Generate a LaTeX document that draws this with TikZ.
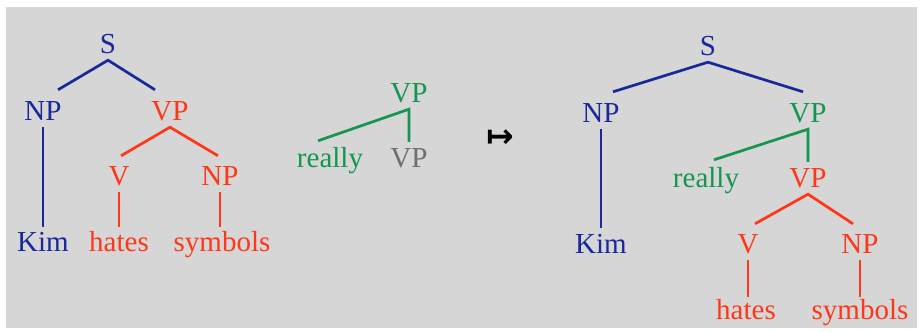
\documentclass[tikz,border=0pt]{standalone}
\usepackage{fontspec}
\setmainfont{Liberation Serif}
\newfontfamily\symfont{DejaVu Sans}
\usetikzlibrary{calc}
\definecolor{tblue}{RGB}{25,40,155}
\definecolor{tred}{RGB}{255,55,25}
\definecolor{tgreen}{RGB}{20,150,80}
\definecolor{tgray}{RGB}{110,110,110}
\definecolor{bg}{RGB}{214,214,214}
\tikzset{
  lab/.style={anchor=base, inner sep=0pt, text height=19pt, text depth=7pt,
    font=\fontsize{29}{34}\selectfont},
  br/.style={line width=2.7pt, line cap=butt},
  arrsym/.style={inner sep=0pt, font=\symfont\bfseries\fontsize{33}{38}\selectfont},
}
\begin{document}
\begin{tikzpicture}[x=1pt,y=-1pt]
\useasboundingbox (0,0) rectangle (924,332);
\fill[bg] (6,7) rectangle (917,328);
% left tree
\node[lab,tblue] (S1) at (108,53) {S};
\node[lab,tblue] (NP1) at (43,120) {NP};
\node[lab,tred] (VP1) at (170,120) {VP};
\node[lab,tred] (V1) at (119,185) {V};
\node[lab,tred] (NP2) at (220,185) {NP};
\node[lab,tblue] (Kim1) at (43,251) {Kim};
\node[lab,tred] (hates1) at (119,251) {hates};
\node[lab,tred] (sym1) at (222,251) {symbols};
\draw[br,tblue] ($(NP1.north)+(15,-11)$) -- (S1.south) -- ($(VP1.north)+(-15,-11)$);
\draw[br,tblue] (NP1.south) -- ($(NP1.south |- Kim1.north)+(0,-5)$);
\draw[br,tred] ($(V1.north)+(2,-10)$) -- (VP1.south) -- ($(NP2.north)+(-2,-10)$);
\draw[br,tred] (V1.south) -- ($(V1.south |- hates1.north)+(0,-5)$);
\draw[br,tred] (NP2.south) -- ($(NP2.south |- sym1.north)+(0,-5)$);
% middle tree
\node[lab,tgreen] (VP3) at (409,102) {VP};
\node[lab,tgreen] (really1) at (330,167) {really};
\node[lab,tgray] (VPg) at (409,167) {VP};
\draw[br,tgreen] ($(really1.north)+(-12,-7)$) -- (VP3.south) -- ($(VPg.north)+(0,-6)$);
% arrow
\node[arrsym] (arrow) at (500,139) {↦};
% right tree
\node[lab,tblue] (S2) at (708,55) {S};
\node[lab,tblue] (NP3) at (601,122) {NP};
\node[lab,tgreen] (VP4) at (808,122) {VP};
\node[lab,tgreen] (really2) at (706,187) {really};
\node[lab,tred] (VP5) at (808,187) {VP};
\node[lab,tblue] (Kim2) at (601,253) {Kim};
\node[lab,tred] (V2) at (748,253) {V};
\node[lab,tred] (NP4) at (860,253) {NP};
\node[lab,tred] (hates2) at (746,319) {hates};
\node[lab,tred] (sym2) at (860,319) {symbols};
\draw[br,tblue] ($(NP3.north)+(12,-11)$) -- (S2.south) -- ($(VP4.north)+(-5,-11)$);
\draw[br,tblue] (NP3.south) -- ($(NP3.south |- Kim2.north)+(0,-6)$);
\draw[br,tgreen] ($(really2.north)+(8,-8)$) -- (VP4.south) -- ($(VP5.north)+(0,-6)$);
\draw[br,tred] ($(V2.north)+(7,-10)$) -- (VP5.south) -- ($(NP4.north)+(-7,-10)$);
\draw[br,tred] (V2.south) -- ($(V2.south |- hates2.north)+(0,-3)$);
\draw[br,tred] (NP4.south) -- ($(NP4.south |- sym2.north)+(0,-3)$);
\end{tikzpicture}
\end{document}
